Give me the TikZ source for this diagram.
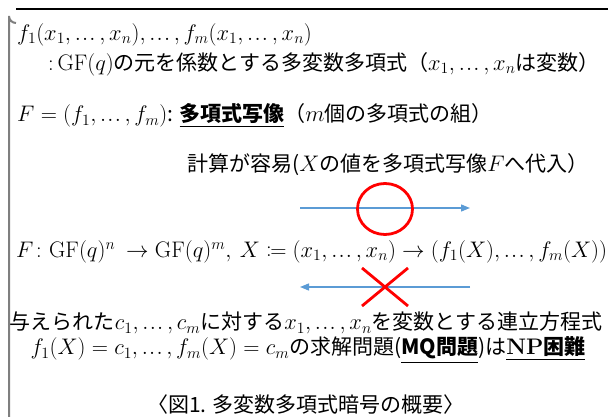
\RequirePackage{fix-cm}
\documentclass[tikz,border=0pt]{standalone}
\usepackage{fontspec}
\usepackage{mathtools}
\usetikzlibrary{arrows.meta,shapes.geometric}
\newfontfamily\cjk[Scale=0.933]{Noto Sans CJK JP}
\newcommand{\ee}{\mathinner{.\mkern1mu.\mkern1mu.}}
\definecolor{arrowblue}{HTML}{5B9BD5}
\definecolor{framegray}{HTML}{7F7F7F}
\begin{document}
\begin{tikzpicture}[x=1pt,y=-1pt,
  txt/.style={inner sep=0pt, font=\fontsize{22.5}{26}\selectfont\cjk},
  flow/.style={draw=arrowblue, line width=1.3pt, -{Triangle[length=9pt,width=7pt]}},
  okmark/.style={draw=red, ellipse, line width=2.8pt, minimum width=55pt, minimum height=51pt, inner sep=0pt},
  ngmark/.style={draw=red, line width=2.8pt}]
\useasboundingbox (0,0) rectangle (608,417);
% frame (cut by the picture edges)
\draw[framegray, line width=2pt] (9,417) -- (9,16) arc[start angle=180, end angle=90, radius=7];
\draw[black, line width=1.2pt] (16,9) -- (608,9);
% text lines
\node[txt, anchor=west] (l1) at (17,35) {$f_1(x_1,\ee,x_n),\ee,f_m(x_1,\ee,x_n)$};
\node[txt, anchor=west] (l2) at (48,64) {${:}\,\mathrm{GF}(q)$の元を係数とする多変数多項式（$x_1,\ee,x_n$は変数）};
\node[txt, anchor=west] (l3) at (17,116) {$F=(f_1,\ee,f_m)$: \underline{\textbf{多項式写像}}（$m$個の多項式の組）};
\node[txt, anchor=west] (l4) at (187,165) {計算が容易($X$の値を多項式写像$F$へ代入）};
\node[txt, anchor=west] (l5) at (16,252) {$F\colon \mathrm{GF}(q)^n\ \to \mathrm{GF}(q)^m,\ X\coloneqq(x_1,\ee,x_n)\to(f_1(X),\ee,f_m(X))$};
\node[txt] (l6) at (306,323) {与えられた$c_1,\ee,c_m$に対する$x_1,\ee,x_n$を変数とする連立方程式};
\node[txt] (l7) at (308,350) {$f_1(X)=c_1,\ee,f_m(X)=c_m$の求解問題(\underline{\textbf{MQ問題}})は\underline{{\normalfont\bfseries NP}\textbf{困難}}};
\node[txt] (cap) at (306,405) {〈図1. 多変数多項式暗号の概要〉};
% forward arrow (easy)
\coordinate (fs) at (300,208);
\coordinate (fe) at (470,208);
\draw[flow] (fs) -- (fe);
\node[okmark] (ok) at (385,209) {};
% backward arrow (hard)
\coordinate (bs) at (470,287);
\coordinate (be) at (300,287);
\draw[flow] (bs) -- (be);
\coordinate (x1) at (362,268);
\coordinate (x2) at (408,306);
\coordinate (x3) at (362,306);
\coordinate (x4) at (408,268);
\draw[ngmark] (x1) -- (x2);
\draw[ngmark] (x3) -- (x4);
\end{tikzpicture}
\end{document}
